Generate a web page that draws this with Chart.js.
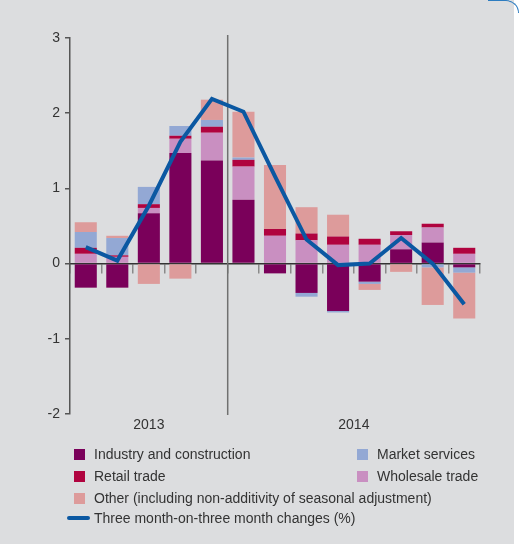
<!DOCTYPE html>
<html>
<head>
<meta charset="utf-8">
<script src="https://cdn.jsdelivr.net/npm/chart.js@4/dist/chart.umd.min.js"></script>
<style>
  html, body { margin: 0; padding: 0; background: #ffffff; }
  #wrap { position: relative; width: 519px; height: 544px; background: #ffffff; overflow: hidden; }
  #panel { position: absolute; left: 0; top: 0; width: 514px; height: 544px; background: #dcdddf; }
  #corner { position: absolute; right: 0; top: 0; width: 30px; height: 12px;
            border-top: 1px solid #2d7cc0; border-right: 1px solid #2d7cc0; border-top-right-radius: 14px; }
  canvas { position: absolute; left: 0; top: 0; }
  #legend { position: absolute; left: 0; top: 0; width: 519px; height: 544px;
            font-family: 'Liberation Sans', Arial, sans-serif; font-size: 14px; color: #333; }
  .item { position: absolute; white-space: nowrap; line-height: 16px; }
  .box { position: absolute; width: 11px; height: 11px; }
  .txt { position: absolute; }
</style>
</head>
<body>
<div id="wrap">
  <div id="panel"></div>
  <div id="corner"></div>
  <canvas id="chart" width="519" height="544"></canvas>
  <div id="legend"></div>
</div>
<script>
// data
const categories = ['Aug 2013', 'Sep 2013', 'Oct 2013', 'Nov 2013', 'Dec 2013',
                    'Jan 2014', 'Feb 2014', 'Mar 2014', 'Apr 2014', 'May 2014', 'Jun 2014', 'Jul 2014', 'Aug 2014'];
const years = ['2013', '2014'];
const yearCounts = [5, 8];

const industry  = [-0.32, -0.32, 0.67, 1.47, 1.37, 0.85, -0.13, -0.39, -0.63, -0.24, 0.19, 0.28, -0.05];
const wholesale = [0.13, 0.09, 0.07, 0.19, 0.37, 0.44, 0.37, 0.31, 0.25, 0.25, 0.19, 0.20, 0.13];
const retail    = [0.08, 0.02, 0.05, 0.04, 0.08, 0.09, 0.09, 0.09, 0.11, 0.08, 0.05, 0.05, 0.08];
const market    = [0.21, 0.23, 0.23, 0.13, 0.09, 0.03, 0.00, -0.05, -0.02, -0.03, 0.00, -0.05, -0.07];
const other     = [0.13, 0.03, -0.27, -0.20, 0.27, 0.61, 0.85, 0.35, 0.29, -0.08, -0.11, -0.50, -0.61];
const threeMonth = [0.22, 0.04, 0.77, 1.62, 2.19, 2.02, 1.16, 0.32, -0.02, 0.00, 0.34, 0.00, -0.54];

const yTicks = [3, 2, 1, 0, -1, -2];

const colors = {
  industry: '#7a005a',
  wholesale: '#c98fc1',
  retail: '#b0033f',
  market: '#93a8d4',
  other: '#dd9b9b',
  line: '#0b58a2'
};

const labels = {
  industry: 'Industry and construction',
  market: 'Market services',
  retail: 'Retail trade',
  wholesale: 'Wholesale trade',
  other: 'Other (including non-additivity of seasonal adjustment)',
  line: 'Three month-on-three month changes (%)'
};

Chart.defaults.font.family = "'Liberation Sans', Arial, sans-serif";
Chart.defaults.font.size = 14;
Chart.defaults.color = '#333';

function barSet(key, values) {
  return {
    type: 'bar',
    label: labels[key],
    data: values,
    backgroundColor: colors[key],
    borderWidth: 0,
    stack: 'parts',
    order: 1,
    barPercentage: 0.7,
    categoryPercentage: 1.0
  };
}

// separator between years and year labels under the axis
const yearPlugin = {
  id: 'years',
  beforeDatasetsDraw(chart) {
    const { ctx, chartArea, scales } = chart;
    const x = scales.x;
    const sepX = (x.getPixelForValue(yearCounts[0] - 1) + x.getPixelForValue(yearCounts[0])) / 2;
    ctx.save();
    ctx.strokeStyle = '#707070';
    ctx.lineWidth = 1.5;
    ctx.beginPath();
    ctx.moveTo(sepX, chartArea.top - 3);
    ctx.lineTo(sepX, chartArea.bottom + 1);
    ctx.stroke();
    ctx.restore();
  },
  afterDraw(chart) {
    const { ctx, chartArea, scales } = chart;
    const x = scales.x;
    const half = (x.getPixelForValue(1) - x.getPixelForValue(0)) / 2;
    let start = 0;
    ctx.save();
    ctx.fillStyle = '#333';
    ctx.font = "14px 'Liberation Sans', Arial, sans-serif";
    ctx.textAlign = 'center';
    ctx.textBaseline = 'middle';
    years.forEach((yr, i) => {
      const end = start + yearCounts[i] - 1;
      const left = x.getPixelForValue(start) - half;
      const right = x.getPixelForValue(end) + half;
      ctx.fillText(yr, (left + right) / 2, chartArea.bottom + 11);
      start = end + 1;
    });
    ctx.restore();
  }
};

new Chart(document.getElementById('chart'), {
  data: {
    labels: categories,
    datasets: [
      {
        type: 'line',
        label: labels.line,
        data: threeMonth,
        borderColor: colors.line,
        borderWidth: 4,
        pointRadius: 0,
        tension: 0,
        fill: false,
        stack: 'trend',
        order: 0
      },
      barSet('industry', industry),
      barSet('wholesale', wholesale),
      barSet('retail', retail),
      barSet('market', market),
      barSet('other', other)
    ]
  },
  options: {
    responsive: false,
    animation: false,
    layout: { padding: { left: 0, top: 38, right: 39, bottom: 130 } },
    plugins: { legend: { display: false }, tooltip: { enabled: false } },
    scales: {
      x: {
        stacked: true,
        position: { y: 0 },
        offset: true,
        grid: { offset: true, drawOnChartArea: false, drawTicks: true, tickLength: 9, color: '#8a8a8a', lineWidth: 1.5 },
        border: { display: true, color: '#333', width: 1.5 },
        ticks: { display: false }
      },
      y: {
        stacked: true,
        min: -2,
        max: 3,
        afterBuildTicks(scale) { scale.ticks = yTicks.map(v => ({ value: v })); },
        afterFit(scale) { scale.width = 70; },
        grid: { drawOnChartArea: false, tickLength: 5, color: '#555', lineWidth: 1.5 },
        border: { display: true, color: '#555', width: 1.5 },
        ticks: { padding: 5, color: '#333', font: { size: 14 } }
      }
    }
  },
  plugins: [yearPlugin]
});

// legend as html, two columns like the reference
const legendRows = [
  { key: 'industry', x: 74, y: 454 },
  { key: 'market', x: 357, y: 454 },
  { key: 'retail', x: 74, y: 476 },
  { key: 'wholesale', x: 357, y: 476 },
  { key: 'other', x: 74, y: 498 }
];
const legend = document.getElementById('legend');
legendRows.forEach(r => {
  const box = document.createElement('div');
  box.className = 'box';
  box.style.left = r.x + 'px';
  box.style.top = (r.y - 5.5) + 'px';
  box.style.background = colors[r.key];
  legend.appendChild(box);
  const t = document.createElement('div');
  t.className = 'item';
  t.style.left = (r.x + 20) + 'px';
  t.style.top = (r.y - 8) + 'px';
  t.textContent = labels[r.key];
  legend.appendChild(t);
});
const lineMark = document.createElement('div');
lineMark.style.cssText = 'position:absolute;left:67px;top:516px;width:23px;height:4px;border-radius:2px;background:' + colors.line;
legend.appendChild(lineMark);
const lineTxt = document.createElement('div');
lineTxt.className = 'item';
lineTxt.style.left = '94px';
lineTxt.style.top = '510px';
lineTxt.textContent = labels.line;
legend.appendChild(lineTxt);
</script>
</body>
</html>
